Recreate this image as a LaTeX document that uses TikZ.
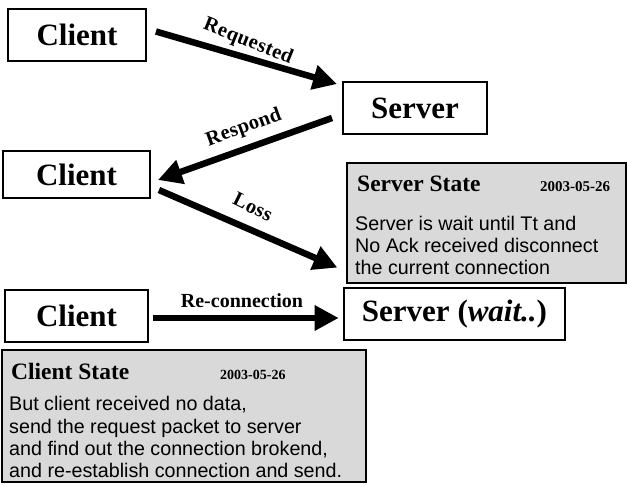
\documentclass[tikz,border=0pt]{standalone}
\usepackage{fontspec}
\setmainfont{Liberation Serif}
\newfontfamily\bodyfont{Liberation Sans}
\newfontfamily\lblfont[LetterSpace=2]{Liberation Serif}
\usetikzlibrary{arrows.meta,calc}
\tikzset{
  mainbox/.style={draw, line width=1.9pt, inner sep=0pt, font=\fontsize{31}{31}\selectfont\bfseries},
  statebox/.style={draw, line width=1.2pt, fill=black!15, inner sep=0pt},
  statetitle/.style={anchor=base west, inner sep=0pt, font=\fontsize{23.5}{23.5}\selectfont\bfseries},
  statedate/.style={anchor=base west, inner sep=0pt, font=\fontsize{15}{15}\selectfont\bfseries},
  bodyline/.style={anchor=base west, inner sep=0pt, font=\bodyfont\fontsize{19.7}{20}\selectfont},
  bigarrow/.style={line width=6.5pt, -{Triangle[length=24pt,width=24pt]}},
  arrowlabel/.style={inner sep=0pt, font=\lblfont\fontsize{20.5}{20.5}\selectfont\bfseries}
}
\begin{document}
\begin{tikzpicture}[x=1pt,y=-1pt]
\useasboundingbox (0,0) rectangle (627,485);

% main boxes
\node[mainbox, minimum width=138pt, minimum height=52pt] (c1) at (77,35) {Client};
\node[mainbox, minimum width=144pt, minimum height=52pt] (srv) at (415,108) {Server};
\node[mainbox, minimum width=147pt, minimum height=47pt] (c2) at (76.5,174.5) {Client};
\node[mainbox, minimum width=143pt, minimum height=52pt] (c3) at (76.5,316) {Client};
\node[mainbox, line width=2.6pt, minimum width=221pt, minimum height=52pt] (sw) at (454.5,314) {Server (\textit{wait..})};

% state boxes
\node[statebox, minimum width=279pt, minimum height=120pt] (ss) at (486.5,223) {};
\node[statebox, minimum width=364pt, minimum height=132pt] (cs) at (184,416) {};

% server state text
\node[statetitle] (sst) at (357,191) {Server State};
\node[statedate] (ssd) at (540,191) {2003-05-26};
\node[bodyline] (ssl1) at (355,230) {Server is wait until Tt and};
\node[bodyline] (ssl2) at (355,252) {No Ack received disconnect};
\node[bodyline] (ssl3) at (355,274) {the current connection};

% client state text
\node[statetitle] (cst) at (11,379) {Client State};
\node[statedate, font=\fontsize{14}{14}\selectfont\bfseries] (csd) at (220,379) {2003-05-26};
\node[bodyline] (csl1) at (9,410) {But client received no data,};
\node[bodyline] (csl2) at (9,433) {send the request packet to server};
\node[bodyline] (csl3) at (9,455) {and find out the connection brokend,};
\node[bodyline] (csl4) at (9,477) {and re-establish connection and send.};

% arrows
\draw[bigarrow] ([shift={(9,-3.5)}]c1.east) -- ([shift={(-5,3)}]srv.north west);
\draw[bigarrow] ([shift={(-10,10)}]srv.west) -- ([shift={(7,5.5)}]c2.east);
\draw[bigarrow] ([shift={(8,15.5)}]c2.east) -- ([shift={(-9,-16)}]ss.south west);
\draw[bigarrow] ([shift={(4,2)}]c3.east) -- ([shift={(-4,4)}]sw.west);

% arrow labels
\node[arrowlabel, rotate=-22] (lreq) at (248,42) {Requested};
\node[arrowlabel, rotate=20] (lres) at (244,128) {Respond};
\node[arrowlabel, rotate=-26] (lloss) at (253,207) {Loss};
\node[arrowlabel, font=\fontsize{20}{20}\selectfont\bfseries, anchor=base] (lrec) at (242,307) {Re-connection};
\end{tikzpicture}
\end{document}
